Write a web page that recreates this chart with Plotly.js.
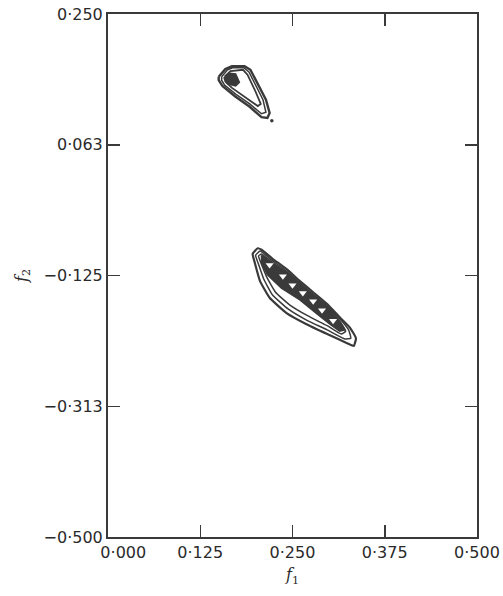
<!DOCTYPE html>
<html><head><meta charset="utf-8">
<script src="https://cdn.plot.ly/plotly-3.0.1.min.js"></script>
<style>html,body{margin:0;padding:0;background:#fff;}#chart{width:503px;height:596px;}</style>
</head><body><div id="chart"></div>
<script>
// Axis ticks
const xTickVals = [0, 0.125, 0.25, 0.375, 0.5];
const xTickText = ["\u00A0\u00A0\u00A0\u00A0\u00A0\u00A00·000", "0·125", "0·250", "0·375", "0·500"];
const yTickVals = [0.25, 0.0625, -0.125, -0.3125, -0.5];
const yTickText = ["0·250", "0·063", "−0·125", "−0·313", "−0·500"];

// Lower contour family (f1, f2)
const lowC1x = [0.196,0.203,0.208,0.223,0.242,0.260,0.278,0.297,0.314,0.328,0.336,0.333,0.324,0.297,0.269,0.242,0.219,0.206,0.199,0.196];
const lowC1y = [-0.094,-0.086,-0.088,-0.101,-0.116,-0.133,-0.149,-0.166,-0.185,-0.200,-0.215,-0.226,-0.222,-0.209,-0.195,-0.179,-0.157,-0.133,-0.107,-0.094];
const lowC2x = [0.200,0.206,0.223,0.242,0.260,0.278,0.297,0.314,0.326,0.329,0.321,0.297,0.269,0.244,0.223,0.211,0.204,0.200];
const lowC2y = [-0.096,-0.090,-0.104,-0.119,-0.136,-0.152,-0.169,-0.187,-0.203,-0.215,-0.216,-0.203,-0.189,-0.173,-0.153,-0.130,-0.109,-0.096];
const lowC3x = [0.204,0.208,0.223,0.242,0.260,0.278,0.297,0.313,0.322,0.316,0.297,0.271,0.246,0.227,0.215,0.208,0.204];
const lowC3y = [-0.097,-0.094,-0.107,-0.121,-0.139,-0.154,-0.172,-0.189,-0.205,-0.209,-0.197,-0.183,-0.167,-0.149,-0.127,-0.109,-0.097];
const lowBandx = [0.208,0.223,0.242,0.260,0.278,0.297,0.313,0.321,0.314,0.302,0.282,0.260,0.235,0.216,0.208,0.208];
const lowBandy = [-0.096,-0.107,-0.121,-0.137,-0.153,-0.170,-0.189,-0.203,-0.205,-0.196,-0.179,-0.160,-0.143,-0.124,-0.107,-0.096];
const lowHolex = [0.219,0.237,0.250,0.264,0.278,0.290,0.305];
const lowHoley = [-0.110,-0.126,-0.139,-0.150,-0.162,-0.175,-0.190];

// Upper contour family
const upC1x = [0.150,0.159,0.168,0.185,0.193,0.204,0.214,0.219,0.216,0.208,0.192,0.172,0.155,0.150,0.150];
const upC1y = [0.160,0.171,0.175,0.175,0.170,0.148,0.127,0.108,0.101,0.102,0.117,0.132,0.147,0.155,0.160];
const upC2x = [0.154,0.162,0.169,0.184,0.191,0.200,0.210,0.214,0.208,0.192,0.173,0.158,0.154,0.154];
const upC2y = [0.160,0.170,0.173,0.173,0.167,0.147,0.127,0.109,0.107,0.121,0.135,0.148,0.155,0.160];
const upC3x = [0.158,0.166,0.183,0.189,0.199,0.207,0.203,0.185,0.168,0.159,0.158];
const upC3y = [0.160,0.168,0.170,0.163,0.141,0.121,0.118,0.131,0.144,0.153,0.160];
const upCorex = [0.157,0.165,0.173,0.178,0.173,0.162,0.157];
const upCorey = [0.158,0.165,0.164,0.152,0.147,0.150,0.158];
const dotx = [0.222];
const doty = [0.097];

const ink = '#3a3a3a';
function line(x, y, w, sm) {
  return {x: x, y: y, type: 'scatter', mode: 'lines', line: {color: ink, width: w, shape: sm ? 'spline' : 'linear', smoothing: sm || 0}, hoverinfo: 'skip', showlegend: false};
}
function filled(x, y) {
  return {x: x, y: y, type: 'scatter', mode: 'lines', fill: 'toself', fillcolor: ink, line: {color: ink, width: 1.5}, hoverinfo: 'skip', showlegend: false};
}
const traces = [
  line(lowC1x, lowC1y, 2.2, 0.4),
  line(lowC2x, lowC2y, 1.5, 0.4),
  line(lowC3x, lowC3y, 1.5, 0.4),
  filled(lowBandx, lowBandy),
  {x: lowHolex, y: lowHoley, type: 'scatter', mode: 'markers', marker: {symbol: 'triangle-down', size: 7, color: '#fff'}, hoverinfo: 'skip', showlegend: false},
  line(upC1x, upC1y, 2.4, 0),
  line(upC2x, upC2y, 1.5, 0),
  line(upC3x, upC3y, 1.8, 0),
  filled(upCorex, upCorey),
  {x: dotx, y: doty, type: 'scatter', mode: 'markers', marker: {size: 3.5, color: ink}, hoverinfo: 'skip', showlegend: false}
];

const axisFont = {family: 'DejaVu Sans, sans-serif', size: 16, color: '#2a2a2a'};
const titleFont = {family: 'DejaVu Serif, serif', size: 16, color: '#2a2a2a'};
const layout = {
  width: 503, height: 596,
  margin: {l: 108, r: 26, t: 14, b: 59},
  paper_bgcolor: '#fff', plot_bgcolor: '#fff',
  showlegend: false,
  xaxis: {
    range: [0, 0.5], tickvals: xTickVals, ticktext: xTickText,
    ticks: 'inside', ticklen: 12, tickwidth: 1.5, tickcolor: ink,
    showline: true, linecolor: ink, linewidth: 2, mirror: 'ticks',
    showgrid: false, zeroline: false, tickfont: axisFont,
    title: {text: '<i>f</i><sub>1</sub>', font: titleFont, standoff: 8}
  },
  yaxis: {
    range: [-0.5, 0.25], tickvals: yTickVals, ticktext: yTickText,
    ticks: 'inside', ticklen: 12, tickwidth: 1.5, tickcolor: ink,
    showline: true, linecolor: ink, linewidth: 2, mirror: 'ticks',
    showgrid: false, zeroline: false, tickfont: axisFont,
    title: {text: '<i>f</i><sub>2</sub>', font: titleFont, standoff: 12}
  }
};
Plotly.newPlot('chart', traces, layout, {staticPlot: true, displayModeBar: false});
</script></body></html>
